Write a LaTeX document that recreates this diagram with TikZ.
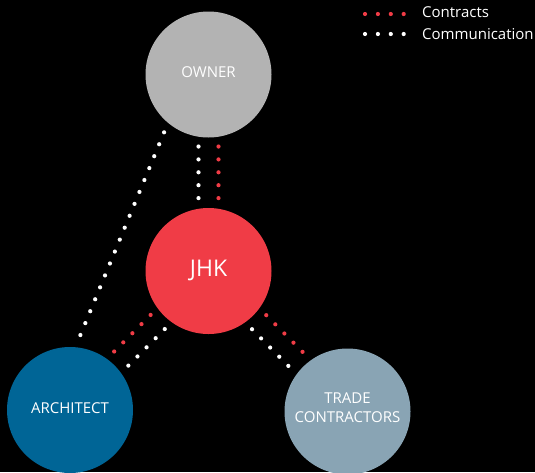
\documentclass[tikz,border=0pt]{standalone}
\usepackage{fontspec}
\setmainfont{Open Sans}
\usetikzlibrary{calc}

\definecolor{ownergray}{RGB}{179,179,179}
\definecolor{jhkred}{RGB}{240,60,70}
\definecolor{archblue}{RGB}{0,101,150}
\definecolor{tradeblue}{RGB}{137,164,180}

\tikzset{
    party/.style={circle,minimum size=126pt,inner sep=0pt,text=white,align=center,
        font=\fontsize{15}{18.5}\selectfont,text depth=4.5pt},
    dotline/.style={line width=4.2pt,line cap=round,dash pattern=on 0pt off 12.9pt,
        shorten <=72pt,shorten >=72pt},
    contract/.style={dotline,draw=jhkred},
    talk/.style={dotline,draw=white},
    legend/.style={anchor=west,inner sep=0pt,text=white,font=\fontsize{15}{17}\selectfont}
}

\begin{document}
\begin{tikzpicture}[x=1pt,y=-1pt]
    % Background
    \fill[black] (0,0) rectangle (535,472);
    \useasboundingbox (0,0) rectangle (535,472);

    % Parties
    \node[party,fill=ownergray] (owner) at (208.5,74.5) {OWNER};
    \node[party,fill=jhkred,font=\fontsize{23}{28}\selectfont,text depth=6pt] (jhk) at (208.5,271) {JHK};
    \node[party,fill=archblue] (architect) at (70,410) {ARCHITECT};
    \node[party,fill=tradeblue,text depth=8pt] (trade) at (347.5,411.5) {TRADE\\CONTRACTORS};

    % Links
    \draw[talk] ($(owner)!10pt!-90:(jhk)$) -- ($(jhk)!10pt!90:(owner)$);
    \draw[contract] ($(owner)!10pt!90:(jhk)$) -- ($(jhk)!10pt!-90:(owner)$);
    \draw[talk,shorten <=70.4pt,shorten >=72.9pt] ($(owner)!19pt!-90:(architect)$) -- ($(architect)!19pt!90:(owner)$);
    \draw[contract] ($(jhk)!10pt!-90:(architect)$) -- ($(architect)!10pt!90:(jhk)$);
    \draw[talk] ($(jhk)!10pt!90:(architect)$) -- ($(architect)!10pt!-90:(jhk)$);
    \draw[contract] ($(jhk)!10pt!90:(trade)$) -- ($(trade)!10pt!-90:(jhk)$);
    \draw[talk] ($(jhk)!10pt!-90:(trade)$) -- ($(trade)!10pt!90:(jhk)$);

    % Legend
    \node[legend] (contracts) at (422,12.5) {Contracts};
    \node[legend] (comms) at (422,34) {Communication};
    \draw[contract,shorten <=0pt,shorten >=0pt] ([shift={(-57,1.5)}]contracts.west) -- ([shift={(-17,1.5)}]contracts.west);
    \draw[talk,shorten <=0pt,shorten >=0pt] ([xshift=-57pt]comms.west) -- ([xshift=-17pt]comms.west);
\end{tikzpicture}
\end{document}
